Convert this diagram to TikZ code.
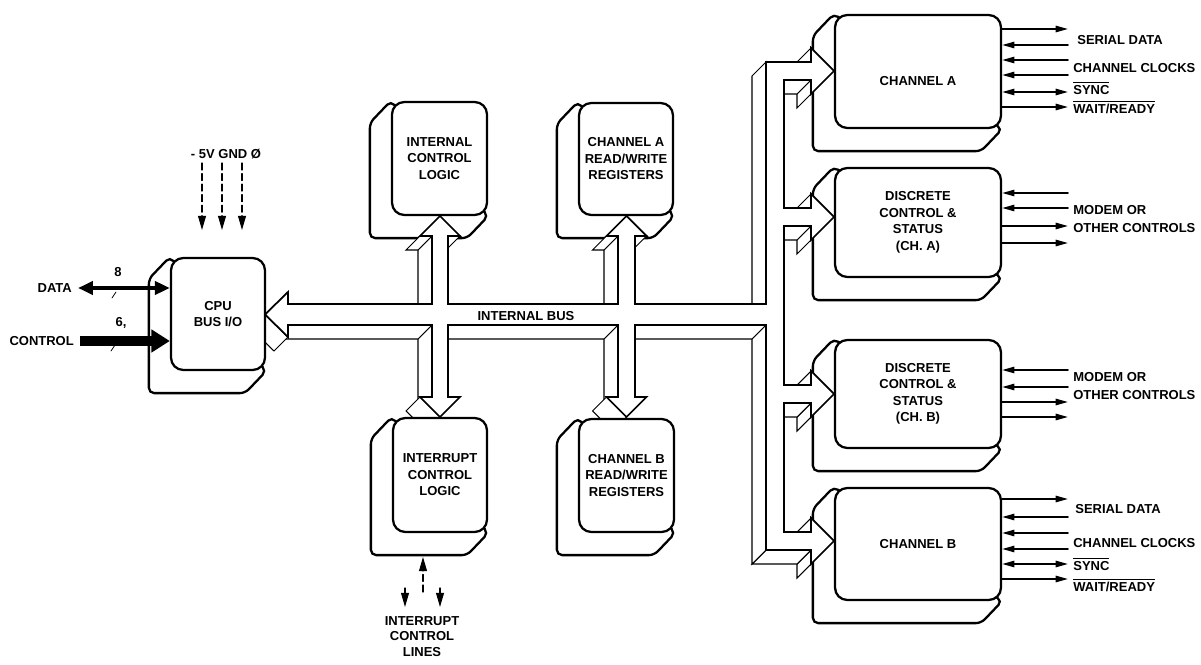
\documentclass[tikz,border=0pt]{standalone}
\usepackage{fontspec}
\setmainfont{Liberation Sans}
\usetikzlibrary{arrows.meta}
\pgfdeclarelayer{back}
\pgfdeclarelayer{bus}
\pgfsetlayers{back,bus,main}

\tikzset{
  block/.style={draw,line width=1.3pt,rounded corners=7pt,fill=white,
    align=center,inner sep=1pt},
  blockback/.style={draw,line width=1.3pt,rounded corners=3pt,fill=white},
  busfront/.style={draw,line width=1pt,fill=white},
  busside/.style={draw,line width=0.6pt,fill=white},
  sigout/.style={line width=1pt,-{Triangle[length=7pt,width=3.6pt]}},
  sigin/.style={line width=1pt,{Triangle[length=7pt,width=3.6pt]}-},
  sigboth/.style={line width=1pt,
    {Triangle[length=7pt,width=3.6pt]}-{Triangle[length=7pt,width=3.6pt]}},
  sigtext/.style={anchor=west,inner sep=0pt},
  pwr/.style={line width=0.6pt,dash pattern=on 4pt off 2pt,
    -{Triangle[length=8pt,width=4.5pt]}},
}
% back of a block, drawn under the bus
\newcommand\drawback[1]{%
  \begin{pgfonlayer}{back}
    \draw[blockback] (#1.center) -- (#1.north west)
      -- ([shift={(-21,22)}]#1.north west) -- ([shift={(-21,22)}]#1.south west)
      -- ([shift={(-21,22)}]#1.south east) -- (#1.south east) -- cycle;
  \end{pgfonlayer}}

\begin{document}
\begin{tikzpicture}[x=0.02cm,y=-0.02cm,line cap=round,line join=round,
                    font=\fontsize{7.4}{9.4}\selectfont\bfseries]
  \useasboundingbox (0,0) rectangle (1201,665);

  % Blocks: front faces
  \node[block,minimum width=1.88cm,minimum height=2.24cm] (cpu)
    at (218,314) {CPU\\BUS I/O};
  \node[block,minimum width=1.9cm,minimum height=2.26cm] (ictl)
    at (439.5,158.5) {INTERNAL\\CONTROL\\LOGIC};
  \node[block,minimum width=1.88cm,minimum height=2.24cm] (rega)
    at (626,159) {CHANNEL A\\READ/WRITE\\REGISTERS};
  \node[block,minimum width=1.88cm,minimum height=2.28cm] (irq)
    at (440,475) {INTERRUPT\\CONTROL\\LOGIC};
  \node[block,minimum width=1.9cm,minimum height=2.26cm] (regb)
    at (626.5,475.5) {CHANNEL B\\READ/WRITE\\REGISTERS};
  \node[block,minimum width=3.32cm,minimum height=2.26cm] (cha)
    at (918,71.5) {};
  \node (chatext) at ([yshift=-0.2cm]cha.center) {CHANNEL A};
  \node[block,minimum width=3.32cm,minimum height=2.18cm] (dsca)
    at (918,222.5) {DISCRETE\\CONTROL \&\\STATUS\\(CH. A)};
  \node[block,minimum width=3.32cm,minimum height=2.16cm] (dscb)
    at (918,394) {DISCRETE\\CONTROL \&\\STATUS\\(CH. B)};
  \node[block,minimum width=3.32cm,minimum height=2.24cm] (chb)
    at (918,544) {CHANNEL B};

  \foreach \b in {cpu,ictl,rega,irq,regb,cha,dsca,dscb,chb}
    {\drawback{\b}}

  % Internal bus
  \begin{pgfonlayer}{bus}
    \foreach \ax/\ay/\bx/\by in {432/304/432/236, 432/236/420/236,
        460/236/448/236, 618/304/618/236, 618/236/606.5/236,
        646.5/236/635/236, 766/304/766/62,
        811/62/811/48, 811/94/811/80, 811/80/784/80,
        811/208/811/194, 811/240/811/226, 811/226/784/226,
        811/385/811/371, 811/417/811/403, 811/403/784/403,
        811/532/811/518, 811/564/811/550, 811/550/766/550,
        766/550/766/325, 766/325/635/325, 618/397/618/325,
        618/325/448/325, 432/397/432/325, 432/325/288/325,
        626.5/417/606.5/397, 440/417/420/397, 288/337/265/314.5}
      \draw[busside] (\ax,\ay) -- (\bx,\by) -- ++(-14,14)
        -- (\ax-14,\ay+14) -- cycle;
    \draw[busfront] (265,314.5) -- (288,292) -- (288,304) -- (432,304)
      -- (432,236) -- (420,236) -- (440,216) -- (460,236) -- (448,236)
      -- (448,304) -- (618,304) -- (618,236) -- (606.5,236) -- (626.5,216)
      -- (646.5,236) -- (635,236) -- (635,304) -- (766,304) -- (766,62)
      -- (811,62) -- (811,48) -- (834,71) -- (811,94) -- (811,80)
      -- (784,80) -- (784,208) -- (811,208) -- (811,194) -- (834,217)
      -- (811,240) -- (811,226) -- (784,226) -- (784,385) -- (811,385)
      -- (811,371) -- (834,394) -- (811,417) -- (811,403) -- (784,403)
      -- (784,532) -- (811,532) -- (811,518) -- (834,541) -- (811,564)
      -- (811,550) -- (766,550) -- (766,325) -- (635,325) -- (635,397)
      -- (646.5,397) -- (626.5,417) -- (606.5,397) -- (618,397)
      -- (618,325) -- (448,325) -- (448,397) -- (460,397) -- (440,417)
      -- (420,397) -- (432,397) -- (432,325) -- (288,325) -- (288,337)
      -- cycle;
    \node (buslabel) at (526,316) {INTERNAL BUS};
  \end{pgfonlayer}

  % CPU side
  \node[anchor=east] (data) at (78,288) {DATA};
  \node[anchor=east] (ctrl) at (80,341) {CONTROL};
  \draw[line width=2.8pt,line cap=butt,
    {Triangle[length=8.5pt,width=7.4pt]}-{Triangle[length=8.5pt,width=7.4pt]}]
    (data.east) -- (cpu.west |- data);
  \draw[line width=5.6pt,line cap=butt,-{Triangle[length=10.5pt,width=12.5pt]}]
    (ctrl.east) -- (cpu.west |- ctrl);
  \node (ndata) at (118,272) {8};
  \node (nctrl) at (121,323) {6,};
  \draw[thin] (112,298) -- (116,292);
  \draw[thin] (111,351) -- (115,345);

  \node (power) at (226,154) {- 5V GND Ø};
  \foreach \x/\n in {202/1,222/2,242/3}
    {\coordinate (pw\n) at (\x,163);
     \coordinate (pwt\n) at (\x,230);
     \draw[pwr] (pw\n) -- (pwt\n);}

  % interrupt lines
  \coordinate (iqa) at (423,592);
  \coordinate (iqat) at (423,557);
  \draw[pwr] (iqa) -- (iqat);
  \foreach \x/\n in {405/1,440/2}
    {\coordinate (iq\n) at (\x,588);
     \coordinate (iqt\n) at (\x,607);
     \draw[pwr] (iq\n) -- (iqt\n);}
  \node[align=center,anchor=north,inner sep=0pt,
        font=\fontsize{7.4}{8.8}\selectfont\bfseries] (irqlines) at (422,616)
    {INTERRUPT\\CONTROL\\LINES};

  % serial side
  \foreach \y/\s in {29/sigout,45/sigin,60/sigin,75/sigin,92/sigboth,107/sigout}
    {\coordinate (cha\y) at (1068,\y);
     \draw[\s] (cha\y -| cha.east) -- (cha\y);}
  \foreach \y/\s in {193/sigin,208/sigin,226/sigout,243/sigout}
    {\coordinate (dsca\y) at (1068,\y);
     \draw[\s] (dsca\y -| dsca.east) -- (dsca\y);}
  \foreach \y/\s in {370/sigin,387/sigin,402/sigout,417/sigout}
    {\coordinate (dscb\y) at (1068,\y);
     \draw[\s] (dscb\y -| dscb.east) -- (dscb\y);}
  \foreach \y/\s in {499/sigout,517/sigin,533/sigin,549/sigin,564/sigboth,579/sigout}
    {\coordinate (chb\y) at (1068,\y);
     \draw[\s] (chb\y -| chb.east) -- (chb\y);}

  \node[sigtext] (chasd) at (1077,40) {SERIAL DATA};
  \node[sigtext] (chacl) at (1073,68) {CHANNEL CLOCKS};
  \node[sigtext] (chasy) at (1073,88) {$\overline{\mbox{SYNC}}$};
  \node[sigtext] (chawr) at (1073,107) {$\overline{\mbox{WAIT/READY}}$};
  \node[sigtext] (dscam) at (1073,210) {MODEM OR};
  \node[sigtext] (dscao) at (1073,228) {OTHER CONTROLS};
  \node[sigtext] (dscbm) at (1073,377) {MODEM OR};
  \node[sigtext] (dscbo) at (1073,395) {OTHER CONTROLS};
  \node[sigtext] (chbsd) at (1075,509) {SERIAL DATA};
  \node[sigtext] (chbcl) at (1073,543) {CHANNEL CLOCKS};
  \node[sigtext] (chbsy) at (1073,564) {$\overline{\mbox{SYNC}}$};
  \node[sigtext] (chbwr) at (1073,585) {$\overline{\mbox{WAIT/READY}}$};
\end{tikzpicture}
\end{document}
